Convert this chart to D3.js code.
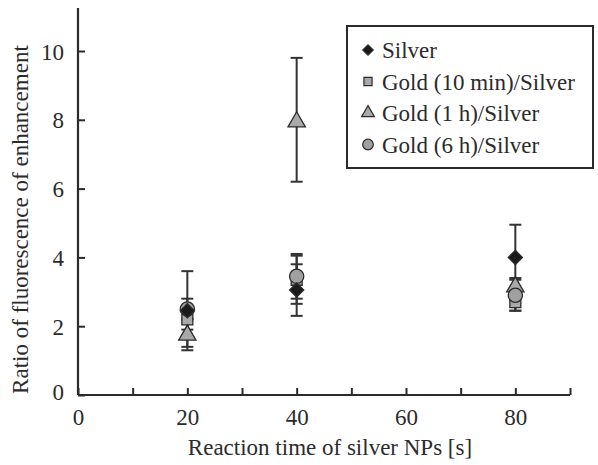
<!DOCTYPE html>
<html lang="en">
<head>
<meta charset="utf-8">
<title>Fluorescence enhancement</title>
<script src="https://d3js.org/d3.v7.min.js"></script>
<style>
  body { margin: 0; background: #fff; }
  text { font-family: "Liberation Serif", "Times New Roman", Tinos, Times, "DejaVu Serif", "Noto Serif", serif; fill: #2b2b2b; }
</style>
</head>
<body>
<div id="chart"></div>
<script>
// reaction times [s]
var times = [20, 40, 80];

var seriesNames = ["Silver", "Gold (10 min)/Silver", "Gold (1 h)/Silver", "Gold (6 h)/Silver"];
var seriesShapes = ["diamond", "square", "triangle", "circle"];

// means and error (+/-) for each series
var silverMean = [2.45, 3.05, 4.0],  silverErr = [1.15, 0.75, 0.95];
var gold10Mean = [2.2, 3.35, 2.7],   gold10Err = [0.3, 0.7, 0.25];
var gold1hMean = [1.8, 8.0, 3.2],    gold1hErr = [0.4, 1.8, 0.2];
var gold6hMean = [2.5, 3.45, 2.9],   gold6hErr = [0.3, 0.65, 0.45];

var xTicks = [0, 20, 40, 60, 80];
var yTicks = [0, 2, 4, 6, 8, 10];

var width = 598, height = 465;
var margin = { top: 8, right: 28, bottom: 70, left: 78 };

var svg = d3.select("#chart").append("svg")
    .attr("width", width)
    .attr("height", height);

var x = d3.scaleLinear().domain([0, 90]).range([margin.left, width - margin.right]);
var y = d3.scaleLinear().domain([0, 11.25]).range([height - margin.bottom, margin.top]);

var means = [silverMean, gold10Mean, gold1hMean, gold6hMean];
var errs = [silverErr, gold10Err, gold1hErr, gold6hErr];

var series = seriesNames.map(function(name, i) {
  return {
    name: name,
    shape: seriesShapes[i],
    points: times.map(function(t, j) { return { t: t, v: means[i][j], e: errs[i][j] }; })
  };
});

// axes
var axisColor = "#2b2b2b";
var xAxis = d3.axisBottom(x).tickValues(d3.range(0, 91, 10)).tickSize(-7)
    .tickFormat(function(d) { return xTicks.indexOf(d) >= 0 ? d : ""; }).tickPadding(14);
var yAxis = d3.axisLeft(y).tickValues(yTicks).tickSize(-7).tickPadding(14);

var gx = svg.append("g")
    .attr("transform", "translate(0," + y(0) + ")")
    .call(xAxis);
var gy = svg.append("g")
    .attr("transform", "translate(" + x(0) + ",0)")
    .call(yAxis);

[gx, gy].forEach(function(g) {
  g.attr("font-family", null);
  g.select(".domain").attr("stroke", axisColor).attr("stroke-width", 2.2);
  g.selectAll(".tick line").attr("stroke", axisColor).attr("stroke-width", 2);
  g.selectAll(".tick text").style("font-size", "23px").attr("fill", axisColor);
});
gx.select(".domain").attr("d", "M" + x(0) + ",0H" + x(90));
gy.select(".domain").attr("d", "M0," + y(0) + "V" + y(11.25));
gy.selectAll(".tick text").attr("dy", "0.35em");
gx.selectAll(".tick text").attr("dy", "0.7em");
gy.selectAll(".tick").filter(function(d) { return d === 0; }).select("text").attr("dy", "0.2em");

// axis titles
svg.append("text")
    .attr("x", 330)
    .attr("y", 455)
    .attr("text-anchor", "middle")
    .style("font-size", "23px")
    .text("Reaction time of silver NPs [s]");

svg.append("text")
    .attr("transform", "translate(28," + y(5.1) + ") rotate(-90)")
    .attr("text-anchor", "middle")
    .style("font-size", "23px")
    .text("Ratio of fluorescence of enhancement");

// marker symbols (diamond = square turned 45 degrees)
var symbolType = {
  diamond: d3.symbolSquare,
  square: d3.symbolSquare,
  triangle: d3.symbolTriangle,
  circle: d3.symbolCircle
};
var symbolSize = { diamond: 100, square: 120, triangle: 130, circle: 160 };
var symbolFill = { diamond: "#1a1a1a", square: "#a9a9a9", triangle: "#a9a9a9", circle: "#a0a0a0" };

function symbolPath(shape, scale) {
  return d3.symbol().type(symbolType[shape]).size(symbolSize[shape] * (scale || 1))();
}
function symbolRotate(shape) {
  return shape === "diamond" ? " rotate(45)" : "";
}

// error bars
var capW = 6;
var errG = svg.append("g");
series.forEach(function(s) {
  var g = errG.selectAll(null).data(s.points).enter().append("g")
      .attr("stroke", "#333").attr("stroke-width", 2);
  g.append("line")
      .attr("x1", function(d) { return x(d.t); })
      .attr("x2", function(d) { return x(d.t); })
      .attr("y1", function(d) { return y(d.v - d.e); })
      .attr("y2", function(d) { return y(d.v + d.e); });
  g.append("line")
      .attr("x1", function(d) { return x(d.t) - capW; })
      .attr("x2", function(d) { return x(d.t) + capW; })
      .attr("y1", function(d) { return y(d.v + d.e); })
      .attr("y2", function(d) { return y(d.v + d.e); });
  g.append("line")
      .attr("x1", function(d) { return x(d.t) - capW; })
      .attr("x2", function(d) { return x(d.t) + capW; })
      .attr("y1", function(d) { return y(d.v - d.e); })
      .attr("y2", function(d) { return y(d.v - d.e); });
});

// markers (drawing order so overlaps look like the original)
var drawOrder = [1, 2, 3, 0];
drawOrder.forEach(function(i) {
  var s = series[i];
  svg.append("g").selectAll("path").data(s.points).enter().append("path")
      .attr("d", symbolPath(s.shape))
      .attr("transform", function(d) {
        var dy = s.shape === "triangle" ? 2 : 0;
        return "translate(" + x(d.t) + "," + (y(d.v) + dy) + ")" + symbolRotate(s.shape);
      })
      .attr("fill", symbolFill[s.shape])
      .attr("stroke", "#2b2b2b")
      .attr("stroke-width", 1.3);
});

// legend
var legend = svg.append("g").attr("transform", "translate(347,26)");
legend.append("rect")
    .attr("width", 246)
    .attr("height", 142)
    .attr("fill", "#fff")
    .attr("stroke", "#2b2b2b")
    .attr("stroke-width", 2);

var item = legend.selectAll("g.item").data(series).enter().append("g")
    .attr("class", "item")
    .attr("transform", function(d, i) { return "translate(21," + (24 + i * 31.5) + ")"; });
item.append("path")
    .attr("d", function(d) { return symbolPath(d.shape, 0.55); })
    .attr("transform", function(d) { return symbolRotate(d.shape); })
    .attr("fill", function(d) { return symbolFill[d.shape]; })
    .attr("stroke", "#2b2b2b")
    .attr("stroke-width", 1.2);
item.append("text")
    .attr("x", 14)
    .attr("dy", "0.35em")
    .style("font-size", "23px")
    .text(function(d) { return d.name; });
</script>
</body>
</html>
